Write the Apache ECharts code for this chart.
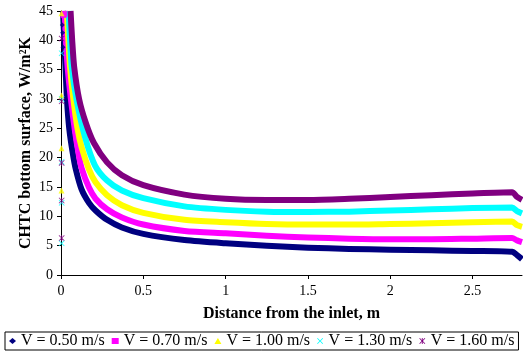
<!DOCTYPE html>
<html>
<head>
<meta charset="utf-8">
<script src="https://cdn.jsdelivr.net/npm/echarts@6/dist/echarts.min.js"></script>
<style>
  html, body { margin: 0; padding: 0; background: #fff; }
  #chart { width: 523px; height: 354px; }
</style>
</head>
<body>
<div id="chart"></div>
<script>
// Convective heat transfer coefficient along the bottom surface, per inlet velocity
const seriesNames = ['V = 0.50 m/s', 'V = 0.70 m/s', 'V = 1.00 m/s', 'V = 1.30 m/s', 'V = 1.60 m/s'];
const seriesColors = ['#000080', '#FF00FF', '#FFFF00', '#00FFFF', '#800080'];
const xTickValues = [0, 0.5, 1, 1.5, 2, 2.5];

// [distance m, CHTC W/m2K] along each curve
const curveV050 = [[0.012,45],[0.02,40],[0.028,35],[0.036,30],[0.05,25],[0.07,21],[0.09,18],[0.125,14.6],[0.17,12.3],[0.21,11.0],[0.28,9.4],[0.37,8.1],[0.5,7.0],[0.75,5.95],[1.0,5.4],[1.25,5.0],[1.5,4.65],[1.75,4.45],[2.0,4.3],[2.25,4.2],[2.5,4.1],[2.74,3.95],[2.77,3.4],[2.8,2.7]];
const curveV070 = [[0.022,45],[0.03,40],[0.04,35.5],[0.06,30],[0.085,24.5],[0.105,21],[0.125,18.2],[0.17,14.9],[0.21,13.0],[0.28,11.2],[0.37,9.8],[0.5,8.6],[0.75,7.5],[1.0,7.1],[1.25,6.7],[1.5,6.4],[1.75,6.2],[2.0,6.1],[2.25,6.1],[2.5,6.2],[2.74,6.3],[2.77,5.9],[2.8,5.6]];
const curveV100 = [[0.035,45],[0.045,40],[0.055,35.5],[0.075,30],[0.1,25],[0.125,21.8],[0.17,18.0],[0.21,15.8],[0.28,13.6],[0.37,11.9],[0.5,10.6],[0.75,9.4],[1.0,9.0],[1.25,8.7],[1.5,8.6],[1.75,8.6],[2.0,8.7],[2.25,8.8],[2.5,9.0],[2.74,9.1],[2.77,8.5],[2.8,8.2]];
const curveV130 = [[0.046,45],[0.055,40],[0.065,35.5],[0.095,29.8],[0.146,23.5],[0.206,18.7],[0.28,16.1],[0.37,14.4],[0.5,13.1],[0.75,11.7],[1.0,11.1],[1.25,10.8],[1.5,10.75],[1.75,10.8],[2.0,11.0],[2.25,11.2],[2.5,11.4],[2.74,11.5],[2.77,10.9],[2.8,10.5]];
const curveV160 = [[0.058,45],[0.068,40],[0.08,35.5],[0.11,30],[0.15,26],[0.2,22.5],[0.28,19.2],[0.37,17.0],[0.5,15.3],[0.75,13.7],[1.0,13.0],[1.25,12.8],[1.5,12.8],[1.75,13.0],[2.0,13.3],[2.25,13.6],[2.5,13.9],[2.74,14.1],[2.77,13.3],[2.8,12.8]];

// isolated values recorded right at the inlet
const inletV050 = [[0.008,42.6],[0.01,41.3],[0.012,38.8]];
const inletV070 = [[0.015,44.3],[0.02,44.5]];
const inletV100 = [[0.003,44.6],[0.003,30.6],[0.003,21.6],[0.003,14.4]];
const inletV130 = [[0.004,37.8],[0.004,30.0],[0.004,19.3],[0.004,12.3],[0.004,5.4]];
const inletV160 = [[0.004,40.3],[0.004,29.6],[0.004,19.1],[0.004,12.7],[0.004,6.3]];

const curves = [curveV050, curveV070, curveV100, curveV130, curveV160];
const inlets = [inletV050, inletV070, inletV100, inletV130, inletV160];

const xShape = 'path://M0,1L1,0L5,4L9,0L10,1L6,5L10,9L9,10L5,6L1,10L0,9L4,5Z';
const starShape = 'path://M0,1L1,0L5,4L9,0L10,1L6,5L10,9L9,10L5,6L1,10L0,9L4,5Z M4.3,0L5.7,0L5.7,10L4.3,10Z';
const markers = ['diamond', 'rect', 'triangle', xShape, starShape];
const markerSizes = [5, 6, 6, 6, 6];

const serif = '"Liberation Serif", "Times New Roman", serif';

const series = [];
curves.forEach((c, i) => {
  series.push({
    name: seriesNames[i], type: 'line', data: c,
    smooth: 0.25, symbol: 'none',
    lineStyle: { color: seriesColors[i], width: 6, join: 'round' },
    itemStyle: { color: seriesColors[i] },
    z: 2 + i, animation: false
  });
  series.push({
    name: seriesNames[i], type: 'scatter', data: inlets[i],
    symbol: markers[i], symbolSize: markerSizes[i],
    itemStyle: { color: seriesColors[i] },
    z: 10, animation: false
  });
});

const chart = echarts.init(document.getElementById('chart'), null, { renderer: 'canvas' });
chart.setOption({
  backgroundColor: '#fff',
  animation: false,
  grid: { left: 61, right: 1, top: 11, bottom: 79, containLabel: false },
  xAxis: {
    type: 'value', min: 0, max: 2.8, interval: 0.5,
    name: 'Distance from the inlet, m', nameLocation: 'middle', nameGap: 31,
    nameMoveOverlap: false,
    nameTextStyle: { fontFamily: serif, fontSize: 16, fontWeight: 'bold', color: '#000' },
    axisLine: { lineStyle: { color: '#000', width: 1 } },
    axisTick: { show: true, length: 4, lineStyle: { color: '#000' }, customValues: xTickValues },
    axisLabel: { fontFamily: serif, fontSize: 14, color: '#000', margin: 9, customValues: xTickValues },
    splitLine: { show: false }
  },
  yAxis: {
    type: 'value', min: 0, max: 45, interval: 5,
    name: 'CHTC bottom surface, W/m\u00B2K', nameLocation: 'middle', nameGap: 27, nameRotate: 90,
    nameMoveOverlap: false,
    nameTextStyle: { fontFamily: serif, fontSize: 16, fontWeight: 'bold', color: '#000' },
    axisLine: { show: true, lineStyle: { color: '#000', width: 1 } },
    axisTick: { show: true, length: 4, lineStyle: { color: '#000' } },
    axisLabel: { fontFamily: serif, fontSize: 14, color: '#000', margin: 8 },
    splitLine: { show: false }
  },
  legend: {
    left: 5, top: 332, orient: 'horizontal',
    padding: [1, 4], borderColor: '#000', borderWidth: 1,
    itemGap: 7, itemWidth: 7, itemHeight: 6,
    textStyle: { fontFamily: serif, fontSize: 16, color: '#000' },
    data: seriesNames.map((n, i) => ({ name: n, icon: markers[i], itemStyle: { color: seriesColors[i] } }))
  },
  series: series
});
</script>
</body>
</html>
